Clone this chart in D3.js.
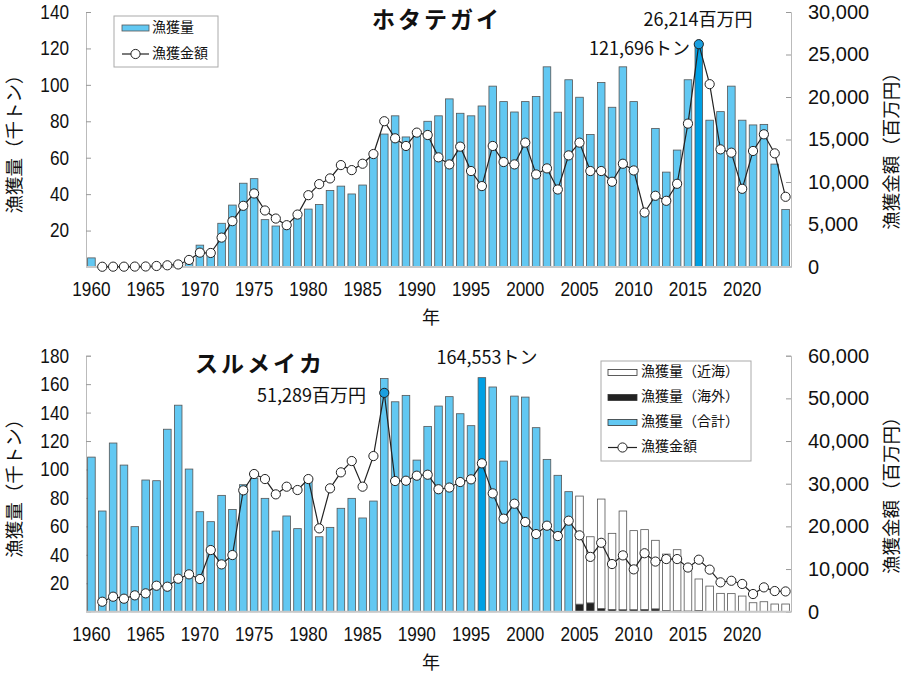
<!DOCTYPE html>
<html>
<head>
<meta charset="utf-8">
<script src="https://cdn.jsdelivr.net/npm/d3@7"></script>
<style>
  body { margin: 0; background: #fff; }
  svg text { font-family: "Noto Sans CJK JP", "Noto Sans", sans-serif; fill: #111; }
  .tick text { font-family: "Liberation Sans", Arial, sans-serif; font-size: 20px; }
</style>
</head>
<body>
<svg id="chart" width="906" height="676"></svg>
<script>
// years (categories) for both panels
let years = d3.range(1960, 2025);

// ホタテガイ: catch (thousand tonnes) and value (million yen)
let scallopCatch = [5, 0, 0, 0, 0, 0, 0, 0, 0, 2,
  12, 7, 24, 34, 46, 48.5, 26, 22.5, 21, 27,
  31.8, 34.3, 42, 44.4, 40.1, 45, 62, 73, 83, 71.4,
  72.5, 80, 83, 92.3, 84.4, 83, 88.4, 99.3, 90.8, 85.1,
  90.8, 93.6, 109.9, 85, 102.8, 93.2, 72.8, 101.3, 87.7, 109.9,
  90.8, 29.5, 76.1, 52.1, 64.2, 102.8, 121.696, 80.6, 85.3, 99.3,
  80.6, 78, 78.3, 56.5, 31.6];
let scallopValue = [null, 30, 40, 40, 50, 60, 120, 200, 300, 830,
  1690, 1650, 3460, 5390, 7200, 8650, 6650, 5700, 4920, 6170,
  8450, 9750, 10420, 11990, 11400, 12150, 13290, 17150, 15140, 14240,
  15810, 15530, 12900, 12070, 14160, 11290, 9520, 14240, 12350, 12070,
  14630, 10890, 11600, 9120, 13130, 14630, 11290, 11290, 10030, 12150,
  11360, 6410, 8380, 7790, 9790, 16870, 26214, 21510, 13840, 13450,
  9200, 13650, 15610, 13370, 8260];

// スルメイカ: total catch 1960-2004, then coastal + overseas 2005-2024
let squidTotal = [108.7, 70.8, 118.6, 103.1, 59.8, 92.6, 92.1, 128.3, 145.2, 100.3,
  70.3, 63.3, 81.8, 71.9, 89.3, 94, 79.7, 56.7, 67.3, 58.4,
  92.5, 52.7, 59.3, 72.7, 79.7, 65.9, 77.8, 163.9, 147.6, 152.1,
  106.6, 130.3, 144.6, 151.2, 139.2, 130.8, 164.553, 158, 105.9, 151.6,
  150.9, 129.4, 107.1, 95.9, 84.4];
let squidCoastal = [76, 46.5, 77, 53.5, 69.4, 55.6, 56.1, 48.2, 39.6, 43,
  32.5, 22.1, 17.8, 12.8, 12.6, 10.9, 6.2, 6.9, 5.4, 5.4];
let squidOverseas = [5.3, 6.2, 2.2, 1.6, 1.4, 1.4, 1.6, 2, 0.9, 0.6,
  0.5, 0.9, 0.2, 0.1, 0.1, 0.1, 0.1, 0.1, 0, 0];
let squidValue = [null, 2340, 3520, 3050, 3830, 4300, 6090, 5860, 7730, 8750,
  7660, 14450, 11090, 13280, 28440, 32270, 31090, 27500, 29300, 28520,
  31090, 19530, 28910, 32660, 35310, 29300, 36480, 51289, 30630, 30700,
  31880, 32110, 28700, 29100, 30390, 31020, 34770, 27730, 21800, 25310,
  21020, 18200, 20160, 17730, 21330, 17900, 12850, 16150, 11170, 13200,
  9920, 13700, 11750, 12340, 12340, 10350, 12190, 9860, 6880, 7250,
  6500, 4140, 5700, 4840, 4750];

let leftTicksTop = [20, 40, 60, 80, 100, 120, 140];
let rightTicksTop = [0, 5000, 10000, 15000, 20000, 25000, 30000];
let leftTicksBottom = [20, 40, 60, 80, 100, 120, 140, 160, 180];
let rightTicksBottom = [0, 10000, 20000, 30000, 40000, 50000, 60000];
let yearTicks = years.filter(d => d % 5 === 0);

let blue = "#62c8f2";
let blueHi = "#00a0e4";
let svg = d3.select("#chart");

let x = d3.scaleBand().domain(years).range([86, 791]).paddingInner(0.3).paddingOuter(0.15);
let fmt = d3.format(",");
let narrow = 0.86; // tick labels in the original use a condensed face

function drawPanel(p) {
  let g = svg.append("g");
  let y = d3.scaleLinear().domain([0, p.yMax]).range([p.bottom, p.top]);
  let y2 = d3.scaleLinear().domain([0, p.y2Max]).range([p.bottom, p.top]);

  // axes
  let ax = g.append("g").attr("transform", "translate(86,0)")
    .call(d3.axisLeft(y).tickValues(p.leftTicks).tickSize(-5).tickPadding(17));
  ax.selectAll(".tick text").attr("x", -17 / narrow).attr("transform", "scale(" + narrow + ",1)");
  let ax2 = g.append("g").attr("transform", "translate(791,0)")
    .call(d3.axisRight(y2).tickValues(p.rightTicks).tickSize(-5).tickPadding(17).tickFormat(fmt));
  [ax, ax2].forEach(a => {
    a.select(".domain").attr("stroke", "#bbb");
    a.selectAll(".tick line").attr("stroke", "#999");
  });
  let axb = g.append("g").attr("transform", "translate(0," + p.bottom + ")")
    .call(d3.axisBottom(x).tickValues(yearTicks).tickSize(0).tickPadding(15));
  axb.select(".domain").remove();
  axb.selectAll(".tick text").attr("transform", "scale(" + narrow + ",1)");

  // bars
  g.append("g").selectAll("rect")
    .data(p.bars)
    .join("rect")
    .attr("x", d => x(d.year))
    .attr("width", x.bandwidth())
    .attr("y", d => y(d.y1))
    .attr("height", d => y(d.y0) - y(d.y1))
    .attr("fill", d => d.fill)
    .attr("stroke", "#555")
    .attr("stroke-width", 0.8);

  // baseline
  g.append("line").attr("x1", 86).attr("x2", 791).attr("y1", p.bottom).attr("y2", p.bottom)
    .attr("stroke", "#c8c8c8").attr("stroke-width", 2);

  // value line
  let pts = years.map((yr, i) => ({ year: yr, v: p.values[i] })).filter(d => d.v != null);
  g.append("path")
    .datum(pts)
    .attr("fill", "none")
    .attr("stroke", "#222")
    .attr("stroke-width", 1.2)
    .attr("d", d3.line().x(d => x(d.year) + x.bandwidth() / 2).y(d => y2(d.v)));
  g.append("g").selectAll("circle")
    .data(pts)
    .join("circle")
    .attr("cx", d => x(d.year) + x.bandwidth() / 2)
    .attr("cy", d => y2(d.v))
    .attr("r", 4.6)
    .attr("fill", d => d.year === p.hiValueYear ? "#1a9fe0" : "#fff")
    .attr("stroke", "#222")
    .attr("stroke-width", 1);

  // titles
  g.append("text").attr("x", p.titleX).attr("y", p.top + 16)
    .attr("text-anchor", "middle")
    .attr("font-size", 23).attr("font-weight", "bold").attr("letter-spacing", 3)
    .text(p.title);
  g.append("text")
    .attr("transform", "translate(21," + (p.top + p.bottom) / 2 + ") rotate(-90)")
    .attr("text-anchor", "middle")
    .attr("font-size", 18.5).text("漁獲量（千トン）");
  g.append("text")
    .attr("transform", "translate(898," + ((p.top + p.bottom) / 2 + 7) + ") rotate(-90)")
    .attr("text-anchor", "middle")
    .attr("font-size", 18.5).text("漁獲金額（百万円）");
  g.append("text").attr("x", 431).attr("y", p.bottom + 57)
    .attr("text-anchor", "middle")
    .attr("font-size", 18).text("年");
}

// ---------- top panel: ホタテガイ
let topBars = years.map((yr, i) => ({
  year: yr, y0: 0, y1: scallopCatch[i], fill: yr === 2016 ? blueHi : blue
}));
drawPanel({
  top: 12, bottom: 267, yMax: 140, y2Max: 30000,
  leftTicks: leftTicksTop, rightTicks: rightTicksTop,
  bars: topBars, values: scallopValue, hiValueYear: 2016,
  title: "ホタテガイ", titleX: 437
});

svg.append("text").attr("x", 698).attr("y", 21)
  .attr("text-anchor", "middle").attr("dominant-baseline", "middle")
  .attr("font-size", 18).text("26,214百万円");
svg.append("text").attr("x", 690).attr("y", 50)
  .attr("text-anchor", "end").attr("dominant-baseline", "middle")
  .attr("font-size", 18).text("121,696トン");

// legend top
let lg1 = svg.append("g");
lg1.append("rect").attr("x", 114).attr("y", 16).attr("width", 104).attr("height", 51)
  .attr("fill", "#fff").attr("stroke", "#aaa");
lg1.append("rect").attr("x", 122).attr("y", 25).attr("width", 27).attr("height", 6)
  .attr("fill", blue).attr("stroke", "#555").attr("stroke-width", 0.8);
lg1.append("text").attr("x", 152).attr("y", 28).attr("dominant-baseline", "middle")
  .attr("font-size", 14).text("漁獲量");
lg1.append("line").attr("x1", 122).attr("x2", 149).attr("y1", 54).attr("y2", 54)
  .attr("stroke", "#222").attr("stroke-width", 1.2);
lg1.append("circle").attr("cx", 135.5).attr("cy", 54).attr("r", 4.6)
  .attr("fill", "#fff").attr("stroke", "#222");
lg1.append("text").attr("x", 152).attr("y", 54).attr("dominant-baseline", "middle")
  .attr("font-size", 14).text("漁獲金額");

// ---------- bottom panel: スルメイカ
let bottomBars = [];
years.forEach((yr, i) => {
  if (i < squidTotal.length) {
    bottomBars.push({ year: yr, y0: 0, y1: squidTotal[i], fill: yr === 1996 ? blueHi : blue });
  } else {
    let k = i - squidTotal.length;
    bottomBars.push({ year: yr, y0: 0, y1: squidOverseas[k], fill: "#222" });
    bottomBars.push({ year: yr, y0: squidOverseas[k], y1: squidOverseas[k] + squidCoastal[k], fill: "#fff" });
  }
});
drawPanel({
  top: 355.7, bottom: 611.7, yMax: 180, y2Max: 60000,
  leftTicks: leftTicksBottom, rightTicks: rightTicksBottom,
  bars: bottomBars, values: squidValue, hiValueYear: 1987,
  title: "スルメイカ", titleX: 260
});

svg.append("text").attr("x", 487).attr("y", 359)
  .attr("text-anchor", "middle").attr("dominant-baseline", "middle")
  .attr("font-size", 18).text("164,553トン");
svg.append("text").attr("x", 366).attr("y", 397)
  .attr("text-anchor", "end").attr("dominant-baseline", "middle")
  .attr("font-size", 18).text("51,289百万円");

// legend bottom
let lg2 = svg.append("g");
lg2.append("rect").attr("x", 601).attr("y", 361).attr("width", 150).attr("height", 100)
  .attr("fill", "#fff").attr("stroke", "#aaa");
let legendItems = [
  { label: "漁獲量（近海）", fill: "#fff" },
  { label: "漁獲量（海外）", fill: "#222" },
  { label: "漁獲量（合計）", fill: blue },
  { label: "漁獲金額", fill: null }
];
legendItems.forEach((d, i) => {
  let cy = 372.5 + i * 25;
  if (d.fill) {
    lg2.append("rect").attr("x", 608).attr("y", cy - 3).attr("width", 29).attr("height", 6)
      .attr("fill", d.fill).attr("stroke", "#333").attr("stroke-width", 0.8);
  } else {
    lg2.append("line").attr("x1", 608).attr("x2", 637).attr("y1", cy).attr("y2", cy)
      .attr("stroke", "#222").attr("stroke-width", 1.2);
    lg2.append("circle").attr("cx", 622.5).attr("cy", cy).attr("r", 4.6)
      .attr("fill", "#fff").attr("stroke", "#222");
  }
  lg2.append("text").attr("x", 641).attr("y", cy).attr("dominant-baseline", "middle")
    .attr("font-size", 14).text(d.label);
});
</script>
</body>
</html>
